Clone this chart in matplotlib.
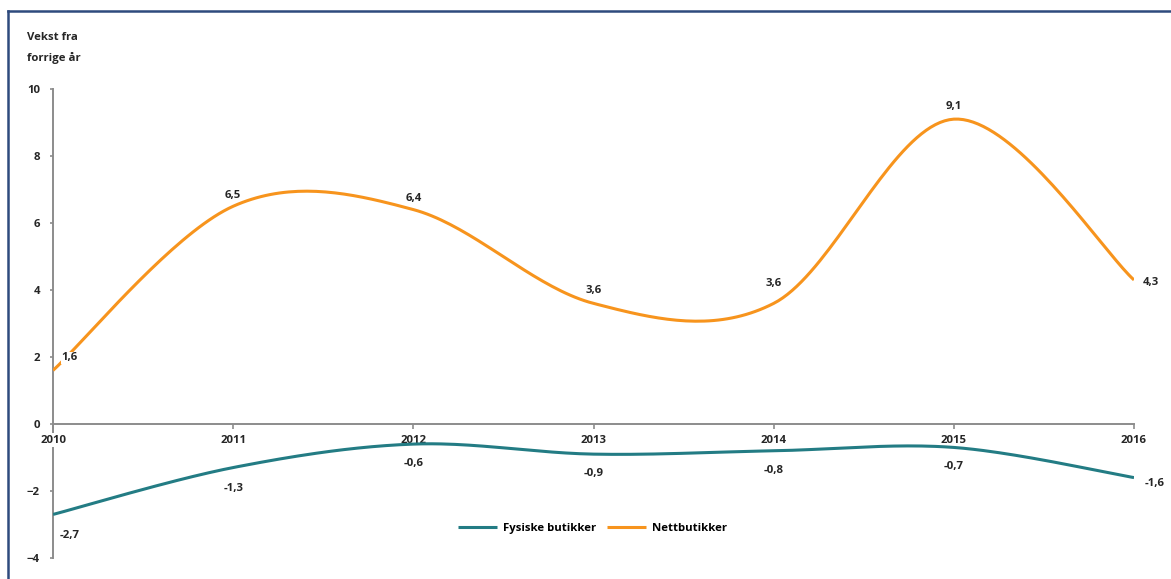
import numpy as np
import matplotlib
matplotlib.use("Agg")
import matplotlib.pyplot as plt
from matplotlib.lines import Line2D

# data
years = [2010, 2011, 2012, 2013, 2014, 2015, 2016]
fysiske = [-2.7, -1.3, -0.6, -0.9, -0.8, -0.7, -1.6]
nett = [1.6, 6.5, 6.4, 3.6, 3.6, 9.1, 4.3]
y_ticks = [-4, -2, 0, 2, 4, 6, 8, 10]

teal = "#237C84"
orange = "#F7941D"
grey = "#8C8C8C"
fs = 8.2
plt.rcParams['font.family'] = ['Open Sans', 'DejaVu Sans']


def smooth(xs, ys, n=40):
    """Excel-like smoothed line (Catmull-Rom as cubic bezier)."""
    p = np.column_stack([xs, ys]).astype(float)
    p = np.vstack([p[0], p, p[-1]])
    t = np.linspace(0, 1, n)[:, None]
    out = []
    for i in range(1, len(p) - 2):
        p0, p1 = p[i], p[i + 1]
        c1 = p0 + (p[i + 1] - p[i - 1]) / 6.0
        c2 = p1 - (p[i + 2] - p[i]) / 6.0
        seg = (1 - t) ** 3 * p0 + 3 * (1 - t) ** 2 * t * c1 + 3 * (1 - t) * t ** 2 * c2 + t ** 3 * p1
        out.append(seg if i == 1 else seg[1:])
    out = np.vstack(out)
    return out[:, 0], out[:, 1]


fig = plt.figure(figsize=(11.71, 5.79), dpi=100)
ax = fig.add_axes([0.0453, 0.0363, 0.9231, 0.81])

sx, sy = smooth(years, fysiske)
ax.plot(sx, sy, color=teal, lw=2.2, zorder=3, label="Fysiske butikker", solid_capstyle='butt')
sx, sy = smooth(years, nett)
ax.plot(sx, sy, color=orange, lw=2.2, zorder=3, label="Nettbutikker", solid_capstyle='butt')

ax.set_xlim(2010, 2016)
ax.set_ylim(-4, 10)
ax.set_yticks(y_ticks)
ax.set_xticks(years)
ax.set_xticklabels([str(y) for y in years])

for s in ['top', 'right']:
    ax.spines[s].set_visible(False)
ax.spines['bottom'].set_position(('data', 0))
for s in ['left', 'bottom']:
    ax.spines[s].set_color(grey)
    ax.spines[s].set_linewidth(1.4)

ax.tick_params(axis='x', direction='out', length=3.6, width=1.2, color=grey, pad=4,
               labelsize=fs)
ax.tick_params(axis='y', direction='out', length=2.5, width=1.2, color=grey, pad=7,
               labelsize=fs)
for lab in ax.get_xticklabels() + ax.get_yticklabels():
    lab.set_fontweight('bold')
    lab.set_color('#262626')
for lab in ax.get_xticklabels():
    lab.set_bbox(dict(facecolor='white', edgecolor='none', pad=1.0))
ax.xaxis.set_zorder(2.6)

# data labels (offsets in points)
nett_off = [(12, 9), (0, 8), (0, 8), (0, 9), (0, 14), (0, 9), (12, -2)]
fys_off = [(12, -15), (0, -15), (0, -14), (0, -14), (0, -14), (0, -14), (15, -4)]
for x, v, off in zip(years, nett, nett_off):
    ax.annotate(f"{v:.1f}".replace('.', ','), (x, v), xytext=off, textcoords='offset points',
                ha='center', va='center', fontsize=fs, fontweight='bold', color='#262626',
                bbox=dict(facecolor='white', edgecolor='none', pad=0.5), zorder=4,
                annotation_clip=False)
for x, v, off in zip(years, fysiske, fys_off):
    ax.annotate(f"{v:.1f}".replace('.', ','), (x, v), xytext=off, textcoords='offset points',
                ha='center', va='center', fontsize=fs, fontweight='bold', color='#262626',
                zorder=4, annotation_clip=False)

fig.text(0.023, 0.917, "Vekst fra\nforrige år", fontsize=fs, fontweight='bold',
         color='#262626', va='center', ha='left', linespacing=1.9)

ax.legend(loc='center', bbox_to_anchor=(0.506, 0.088), bbox_transform=fig.transFigure,
          ncol=2, frameon=False, handlelength=3.4, columnspacing=1.0, handletextpad=0.5,
          prop={'size': fs, 'weight': 'bold'})

# frame of the original picture (top and left edges)
fig.add_artist(Line2D([0.0068, 1.0], [0.981, 0.981], transform=fig.transFigure,
                      color='#2E4A7D', lw=1.8))
fig.add_artist(Line2D([0.0068, 0.0068], [0.0, 0.981], transform=fig.transFigure,
                      color='#2E4A7D', lw=1.8))

fig.savefig("out.png", dpi=100)
